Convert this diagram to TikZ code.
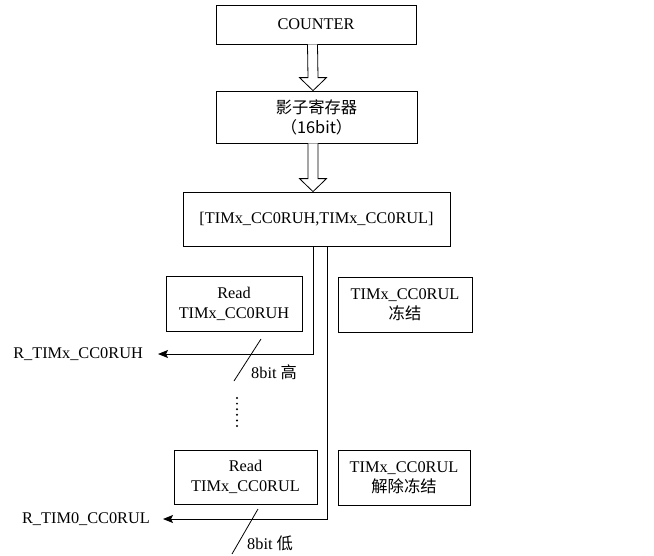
\documentclass[tikz,border=0pt]{standalone}
\usepackage{fontspec}
\setmainfont{Liberation Serif}
\newfontfamily\cjk{Noto Sans CJK SC}
\usepackage{tikz}
\usetikzlibrary{arrows.meta, positioning, calc}
\tikzstyle{box} = [rectangle, draw=black, line width=0.8pt, align=center, inner sep=0pt, font=\fontsize{16.3}{20}\selectfont]
\tikzstyle{tag} = [inner sep=0pt, font=\fontsize{16.3}{20}\selectfont]
\tikzstyle{arrow} = [line width=1pt, -{Stealth[length=10pt,width=8pt,inset=2pt]}]
\tikzstyle{hollow} = [draw=black, line width=0.8pt, fill=white]
\tikzstyle{slash} = [line width=0.8pt]

\begin{document}
\begin{tikzpicture}[x=1pt, y=-1pt]
  \useasboundingbox (0,0) rectangle (654,555);

  \node (counter) [box, minimum width=200, minimum height=39] at (316,24.5) {COUNTER};
  \node (shadow) [box, minimum width=201, minimum height=52] at (316.5,117) {\cjk{影子寄存器}\\\cjk{（}16bit\cjk{）}};
  \node (ccr) [box, minimum width=267, minimum height=54] at (316.5,219) {[TIMx\_CC0RUH,TIMx\_CC0RUL]};
  \node (readh) [box, minimum width=136, minimum height=55] at (234,303.5) {Read\\TIMx\_CC0RUH};
  \node (freeze) [box, minimum width=134, minimum height=55] at (405,304.5) {TIMx\_CC0RUL\\\cjk{冻结}};
  \node (readl) [box, minimum width=143, minimum height=54] at (245.5,477) {Read\\TIMx\_CC0RUL};
  \node (unfreeze) [box, minimum width=132, minimum height=55] at (404,477.5) {TIMx\_CC0RUL\\\cjk{解除冻结}};

  \node (outh) [tag, anchor=east, inner xsep=15pt] at (158,354) {R\_TIMx\_CC0RUH};
  \node (outl) [tag, anchor=east, inner xsep=13pt] at (163,519) {R\_TIM0\_CC0RUL};

  % hollow arrows between the upper boxes
  \draw[hollow] ($(counter.south)+(-8.5,0)$) -- ($(shadow.north)+(-8.5,-13)$) -- ($(shadow.north)+(-17,-13)$)
    -- ($(shadow.north)+(-3.5,0)$) -- ($(shadow.north)+(10,-13)$) -- ($(shadow.north)+(1.5,-13)$) -- ($(counter.south)+(1.5,0)$);
  \draw[hollow] ($(shadow.south)+(-8.5,0)$) -- ($(ccr.north)+(-8.5,-13)$) -- ($(ccr.north)+(-17,-13)$)
    -- ($(ccr.north)+(-3.5,0)$) -- ($(ccr.north)+(10,-13)$) -- ($(ccr.north)+(1.5,-13)$) -- ($(shadow.south)+(1.5,0)$);

  % read paths
  \draw[arrow] ([xshift=-3.5]ccr.south) |- (outh);
  \draw[arrow] ([xshift=10.5]ccr.south) |- (outl);

  % bus width marks
  \coordinate (cuth) at (251.5,354);
  \coordinate (cutl) at (252,519);
  \draw[slash] ($(cuth)+(9.5,-15)$) -- ($(cuth)+(-17.5,27)$);
  \draw[slash] ($(cutl)+(6,-10)$) -- ($(cutl)+(-20,35)$);
  \node (bith) [tag, anchor=west] at (251,372) {8bit \cjk{高}};
  \node (bitl) [tag, anchor=west] at (247,543) {8bit \cjk{低}};

  \foreach \k in {0,...,5}
    \fill (237,398+5.6*\k) circle (1.1);
\end{tikzpicture}
\end{document}
